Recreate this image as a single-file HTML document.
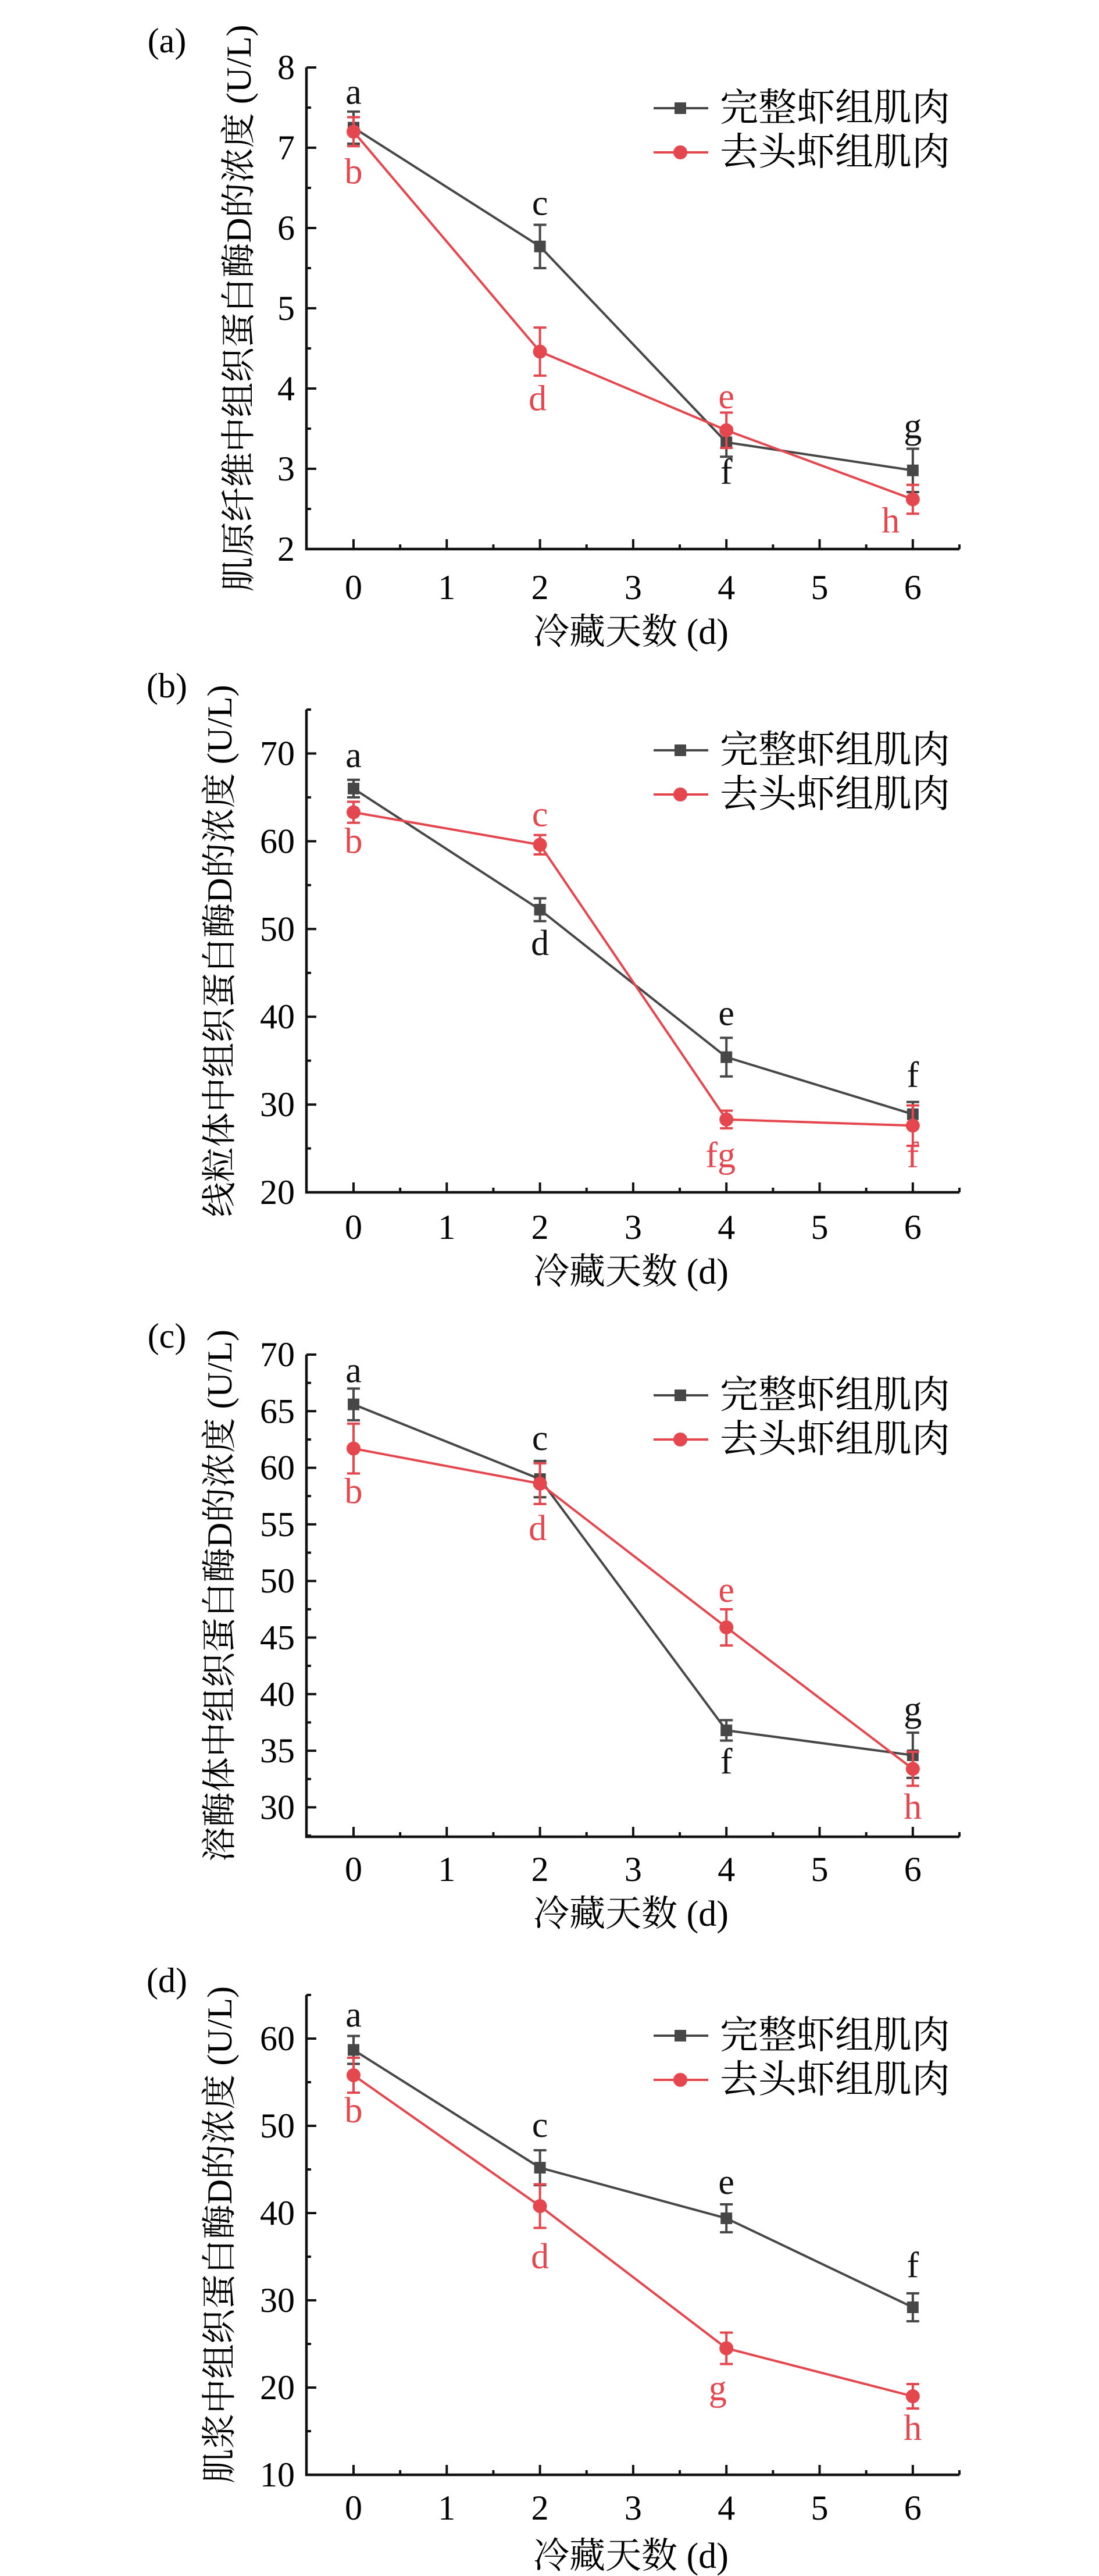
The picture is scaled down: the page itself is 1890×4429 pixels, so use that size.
<!DOCTYPE html>
<html><head><meta charset="utf-8"><style>
html,body{margin:0;padding:0;background:#fff;}
svg{display:block;}
text{font-family:"Liberation Serif","Noto Serif CJK SC","Noto Sans CJK SC",serif;}
</style></head><body>
<svg id="fig" width="1890" height="4429" viewBox="0 0 1890 4429" xmlns="http://www.w3.org/2000/svg"></svg>
<script>
const days = [0, 2, 4, 6];
const seriesNames = ["完整虾组肌肉", "去头虾组肌肉"];
// panel a
const aWhole = [7.25, 5.77, 3.33, 2.98];
const aWholeErr = [0.2, 0.27, 0.18, 0.27];
const aHead = [7.2, 4.46, 3.48, 2.62];
const aHeadErr = [0.18, 0.3, 0.22, 0.18];
const aWholeLbl = ["a", "c", "f", "g"];
const aHeadLbl = ["b", "d", "e", "h"];
const aTicks = [2, 3, 4, 5, 6, 7, 8];
// panel b
const bWhole = [66, 52.2, 35.4, 28.9];
const bWholeErr = [1, 1.3, 2.2, 1.4];
const bHead = [63.3, 59.6, 28.3, 27.6];
const bHeadErr = [1.2, 1.1, 1, 2.3];
const bWholeLbl = ["a", "d", "e", "f"];
const bHeadLbl = ["b", "c", "fg", "f"];
const bTicks = [20, 30, 40, 50, 60, 70];
// panel c
const cWhole = [65.6, 59, 36.8, 34.6];
const cWholeErr = [1.4, 1.6, 0.9, 2];
const cHead = [61.7, 58.6, 45.9, 33.4];
const cHeadErr = [2.2, 1.8, 1.6, 1.5];
const cWholeLbl = ["a", "c", "f", "g"];
const cHeadLbl = ["b", "d", "e", "h"];
const cTicks = [30, 35, 40, 45, 50, 55, 60, 65, 70];
// panel d
const dWhole = [58.7, 45.2, 39.4, 29.2];
const dWholeErr = [1.6, 2, 1.6, 1.6];
const dHead = [55.8, 40.8, 24.5, 19];
const dHeadErr = [2, 2.5, 1.8, 1.4];
const dWholeLbl = ["a", "c", "e", "f"];
const dHeadLbl = ["b", "d", "g", "h"];
const dTicks = [10, 20, 30, 40, 50, 60];
const xTicks = [0, 1, 2, 3, 4, 5, 6];

const NS = "http://www.w3.org/2000/svg";
const svg = document.getElementById("fig");
function el(tag, attrs, parent, txt) {
  const e = document.createElementNS(NS, tag);
  for (const k in attrs) e.setAttribute(k, attrs[k]);
  if (txt !== undefined) e.textContent = txt;
  (parent || svg).appendChild(e);
  return e;
}
const BLK = "#474747", RED = "#e5474f";

function panel(cfg) {
  const g = el("g", {});
  
  
  const L = 527, R = 1650, x0 = 608, dx = 160.3;
  const top = cfg.top, bot = cfg.bot;
  const X = d => x0 + d * dx;
  const Y = v => bot - (v - cfg.ymin) / (cfg.ymax - cfg.ymin) * (bot - top);
  const pl = el("text", {x: 287, y: cfg.labelY, "font-size": 60, "text-anchor": "middle", "dominant-baseline": "central"}, g, "(" + cfg.id + ")");
  
  
  const ax = el("path", {d: `M${L} ${top}V${bot}H${R}`, stroke: "#111", "stroke-width": 4.5, fill: "none"}, g);
  
  
  const step = cfg.ticks[1] - cfg.ticks[0];
  cfg.ticks.forEach(v => {
    el("line", {x1: L, x2: L + 17, y1: Y(v), y2: Y(v), stroke: "#111", "stroke-width": 4}, g);
    const t = el("text", {x: 507, y: Y(v), "font-size": 60, "text-anchor": "end", "dominant-baseline": "central"}, g, String(v));
    
    
    const m = v + step / 2;
    if (m <= cfg.ymax) el("line", {x1: L, x2: L + 8, y1: Y(m), y2: Y(m), stroke: "#111", "stroke-width": 4}, g);
  });
  const m0 = cfg.ticks[0] - step / 2;
  if (m0 >= cfg.ymin) el("line", {x1: L, x2: L + 8, y1: Y(m0), y2: Y(m0), stroke: "#111", "stroke-width": 4}, g);
  xTicks.forEach(d => {
    el("line", {x1: X(d), x2: X(d), y1: bot, y2: bot - 17, stroke: "#111", "stroke-width": 4}, g);
    el("line", {x1: X(d + 0.5), x2: X(d + 0.5), y1: bot, y2: bot - 8, stroke: "#111", "stroke-width": 4}, g);
    const t = el("text", {x: X(d), y: bot + cfg.xlOff, "font-size": 60, "text-anchor": "middle", "dominant-baseline": "central"}, g, String(d));
    
    
  });
  const xt = el("text", {x: 1085, y: bot + cfg.xtOff, "font-size": 62, "text-anchor": "middle", "dominant-baseline": "central"}, g, "冷藏天数 (d)");
  
  
  const yc = (top + bot) / 2;
  const yt = el("text", {x: 0, y: 0, "font-size": 60, "text-anchor": "middle", "dominant-baseline": "central", transform: `translate(${cfg.titleX},${yc}) rotate(-90)`}, g, cfg.title);
  
  
  const series = [
    {vals: cfg.w, err: cfg.we, lbl: cfg.wl, dy: cfg.wdy, col: BLK, sq: true, name: "whole"},
    {vals: cfg.h, err: cfg.he, lbl: cfg.hl, dy: cfg.hdy, col: RED, sq: false, name: "headless"}
  ];
  series.forEach(s => {
    const sg = el("g", {}, g);
    
    
    const pts = s.vals.map((v, i) => X(days[i]) + "," + Y(v)).join(" ");
    el("polyline", {points: pts, fill: "none", stroke: s.col, "stroke-width": 4}, sg);
    s.vals.forEach((v, i) => {
      const x = X(days[i]);
      const yh = Y(v + s.err[i]), yl = Y(v - s.err[i]);
      el("path", {d: `M${x} ${yh}V${yl}M${x - 11} ${yh}H${x + 11}M${x - 11} ${yl}H${x + 11}`, stroke: s.col, "stroke-width": 4, fill: "none"}, sg);
      let mk;
      if (s.sq) mk = el("rect", {x: x - 10, y: Y(v) - 10, width: 20, height: 20, fill: s.col}, sg);
      else mk = el("circle", {cx: x, cy: Y(v), r: 12, fill: s.col}, sg);
      
      
      const ox = s.sq ? 0 : (cfg.hdx ? cfg.hdx[i] : 0);
      const lt = el("text", {x: x + ox, y: Y(v) + s.dy[i], "font-size": 62, "text-anchor": "middle", "dominant-baseline": "central", fill: s.sq ? "#111" : RED}, sg, s.lbl[i]);
      
      
    });
  });
  [0, 1].forEach(k => {
    const ly = top + (k === 0 ? 70 : 146);
    const lg = el("g", {}, g);
    
    
    const col = k === 0 ? BLK : RED;
    el("line", {x1: 1124, x2: 1218, y1: ly, y2: ly, stroke: col, "stroke-width": 4}, lg);
    if (k === 0) el("rect", {x: 1160, y: ly - 10, width: 20, height: 20, fill: col}, lg);
    else el("circle", {cx: 1170, cy: ly, r: 12, fill: col}, lg);
    el("text", {x: 1238, y: ly, "font-size": 66, "dominant-baseline": "central"}, lg, seriesNames[k]);
  });
}

panel({id: "a", top: 116, bot: 944, ymin: 2, ymax: 8, ticks: aTicks, labelY: 70, titleX: 411, xlOff: 66, xtOff: 143,
  title: "肌原纤维中组织蛋白酶D的浓度 (U/L)",
  w: aWhole, we: aWholeErr, wl: aWholeLbl, wdy: [-61, -74, 51, -76],
  h: aHead, he: aHeadErr, hl: aHeadLbl, hdy: [69, 81, -58, 37], hdx: [0, -4, 0, -38]});
panel({id: "b", top: 1220, bot: 2050, ymin: 20, ymax: 75, ticks: bTicks, labelY: 1179, titleX: 378, xlOff: 60, xtOff: 137,
  title: "线粒体中组织蛋白酶D的浓度 (U/L)",
  w: bWhole, we: bWholeErr, wl: bWholeLbl, wdy: [-57, 58, -75, -67],
  h: bHead, he: bHeadErr, hl: bHeadLbl, hdy: [50, -52, 62, 51], hdx: [0, 0, -10, 0]});
panel({id: "c", top: 2329, bot: 3158, ymin: 27.4, ymax: 70, ticks: cTicks, labelY: 2297, titleX: 378, xlOff: 56, xtOff: 133,
  title: "溶酶体中组织蛋白酶D的浓度 (U/L)",
  w: cWhole, we: cWholeErr, wl: cWholeLbl, wdy: [-58, -70, 54, -79],
  h: cHead, he: cHeadErr, hl: cHeadLbl, hdy: [74, 77, -64, 66], hdx: [0, -4, 0, 0]});
panel({id: "d", top: 3430, bot: 4255, ymin: 10, ymax: 65, ticks: dTicks, labelY: 3405, titleX: 378, xlOff: 57, xtOff: 140,
  title: "肌浆中组织蛋白酶D的浓度 (U/L)",
  w: dWhole, we: dWholeErr, wl: dWholeLbl, wdy: [-60, -73, -62, -72],
  h: dHead, he: dHeadErr, hl: dHeadLbl, hdy: [61, 87, 69, 55], hdx: [0, 0, -15, 0]});
</script>
</body></html>
